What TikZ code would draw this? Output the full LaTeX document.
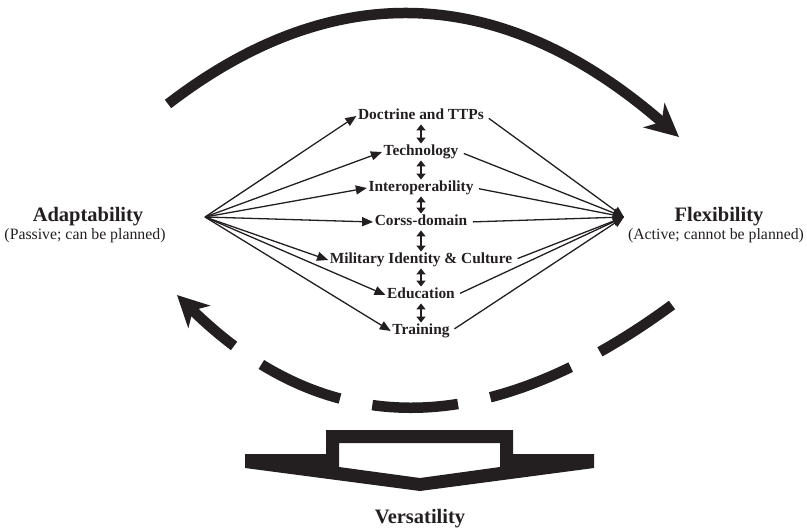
\documentclass[tikz,border=0pt]{standalone}
\usepackage{fontspec}
\setmainfont{Liberation Serif}
\usetikzlibrary{arrows.meta}
\definecolor{ink}{HTML}{231F20}
\begin{document}
\begin{tikzpicture}[x=1pt,y=-1pt,
 lab/.style={font=\fontsize{15.4}{18}\selectfont\bfseries, text=ink, inner sep=1.5pt, text height=10.5pt, text depth=3pt},
 big/.style={font=\fontsize{20.5}{24}\selectfont\bfseries, text=ink, inner sep=0pt},
 sub/.style={font=\fontsize{15.8}{19}\selectfont, text=ink, inner sep=0pt},
 thin/.style={draw=ink, line width=1.3pt, -{Triangle[length=11pt,width=9pt]}},
 dbl/.style={draw=ink, line width=2.6pt, {Triangle[length=6pt,width=9pt]}-{Triangle[length=6pt,width=9pt]}},
 bigarc/.style={draw=ink, line width=10.5pt},
]
\useasboundingbox (0,0) rectangle (807,528);

% central labels
\node[lab] (d)  at (421,116) {Doctrine and TTPs};
\node[lab] (t)  at (421,152) {Technology};
\node[lab] (i)  at (421,188) {Interoperability};
\node[lab] (c)  at (421,222) {Corss-domain};
\node[lab] (m)  at (421,260) {Military Identity \& Culture};
\node[lab] (e)  at (421,295) {Education};
\node[lab] (tr) at (421,331) {Training};

% side labels
\node[big] (ad)    at (88,217)  {Adaptability};
\node[sub] (adsub) at (85,236)  {(Passive; can be planned)};
\node[big] (fl)    at (719,217) {Flexibility};
\node[sub] (flsub) at (716,236) {(Active; cannot be planned)};
\node[big] (ve)    at (420,519) {Versatility};

% hubs
\coordinate (L) at (205,217);
\coordinate (R) at (624,217);

% left fan
\foreach \n in {d,t,i,c,m,e,tr} \draw[thin] (L) -- (\n.west);
% right fan
\foreach \n in {d,t,i,c,m,e,tr} \draw[thin, shorten <=4pt] (\n.east) -- (R);

% double arrows
\draw[dbl] (d.south) -- (t.north);
\draw[dbl] (t.south) -- (i.north);
\draw[dbl] (i.south) -- (c.north);
\draw[dbl] (c.south) -- (m.north);
\draw[dbl] (m.south) -- (e.north);
\draw[dbl] (e.south) -- (tr.north);

% top arc
\draw[bigarc, -{Stealth[length=33pt,width=32pt,inset=10pt]}]
  (168,104) .. controls (324,-16) and (493,-25) .. (679,137);

% bottom dashed arc
\draw[bigarc, dash pattern=on 86pt off 33pt, -{Stealth[length=31pt,width=31pt,inset=9pt]}]
  (672,305) .. controls (494.5,435.4) and (332,447) .. (177,295);

% versatility shape
\fill[ink, even odd rule]
  (326,430) -- (513,430) -- (513,454) -- (594,454) -- (594,468) -- (420,491)
  -- (245,468) -- (245,454) -- (326,454) -- cycle
  (339,443) -- (500,443) -- (500,467) -- (420,478) -- (339,467) -- cycle;
\end{tikzpicture}
\end{document}
